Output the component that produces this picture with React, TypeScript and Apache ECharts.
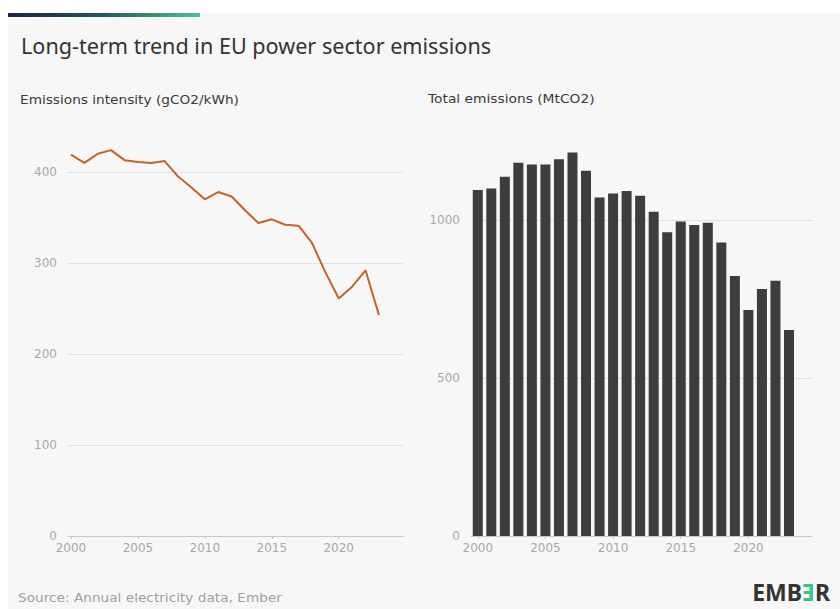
import React, { useEffect, useRef } from "react";
import * as echarts from "echarts";

const years = [2000, 2001, 2002, 2003, 2004, 2005, 2006, 2007, 2008, 2009, 2010, 2011, 2012, 2013, 2014, 2015, 2016, 2017, 2018, 2019, 2020, 2021, 2022, 2023];
const intensity = [419, 410, 420, 424, 413, 411, 410, 412, 395, 383, 370, 378, 373, 358, 344, 348, 342, 341, 322, 290, 261, 274, 292, 243];
const totalEmissions = [1095, 1100, 1137, 1181, 1176, 1176, 1192, 1214, 1156, 1071, 1084, 1092, 1077, 1026, 961, 995, 984, 991, 929, 823, 715, 782, 808, 652];
const yearTicks = [2000, 2005, 2010, 2015, 2020];
const leftTitle = "Emissions intensity (gCO2/kWh)";
const rightTitle = "Total emissions (MtCO2)";
const mainTitle = "Long-term trend in EU power sector emissions";
const sourceText = "Source: Annual electricity data, Ember";

const FONT = "Noto Sans";
const WIDE = "DejaVu Sans";

export default function App() {
  const ref = useRef<HTMLDivElement>(null);
  useEffect(() => {
    document.body.style.margin = "0";
    const chart = echarts.init(ref.current!, null, { renderer: "svg" });
    const xAxisCommon = (gridIndex: number, min: number, max: number) => ({
      type: "value" as const,
      gridIndex,
      min,
      max,
      axisLine: { show: true, lineStyle: { color: "#c8c8c8", width: 1 } },
      axisTick: { show: true, customValues: yearTicks, length: 3, lineStyle: { color: "#c8c8c8" } },
      axisLabel: {
        customValues: yearTicks,
        color: "#a8a8a8",
        fontSize: 12,
        fontFamily: WIDE,
        margin: 6,
        formatter: (v: number) => String(v),
      },
      splitLine: { show: false },
    });
    const yAxisCommon = (gridIndex: number, max: number, interval: number) => ({
      type: "value" as const,
      gridIndex,
      min: 0,
      max,
      interval,
      axisLine: { show: false },
      axisTick: { show: false },
      axisLabel: {
        color: "#a8a8a8",
        fontSize: 12,
        fontFamily: WIDE,
        margin: 11,
        formatter: (v: number) => String(v),
      },
      splitLine: { show: true, lineStyle: { color: "#e0e0e0", width: 1 } },
    });
    chart.setOption({
      animation: false,
      backgroundColor: "#ffffff",
      graphic: [
        { type: "rect", z: -10, shape: { x: 8, y: 13, width: 832, height: 596 }, style: { fill: "#f7f7f7" } },
        {
          type: "rect",
          shape: { x: 8, y: 13, width: 192, height: 4 },
          style: {
            fill: new echarts.graphic.LinearGradient(0, 0, 1, 0, [
              { offset: 0, color: "#1d2146" },
              { offset: 0.5, color: "#245a5a" },
              { offset: 1, color: "#4cc391" },
            ]),
          },
        },
        {
          type: "text",
          x: 21,
          y: 45,
          style: { text: mainTitle, fontSize: 21.6, fontFamily: FONT, fill: "#333333", textVerticalAlign: "middle" },
        },
        {
          type: "text",
          x: 20,
          y: 100,
          scaleX: 1.19,
          style: { text: leftTitle, fontSize: 11.5, fontFamily: WIDE, fill: "#3a3a3a", textVerticalAlign: "middle" },
        },
        {
          type: "text",
          x: 428,
          y: 99,
          scaleX: 1.2,
          style: { text: rightTitle, fontSize: 11.5, fontFamily: WIDE, fill: "#3a3a3a", textVerticalAlign: "middle" },
        },
        {
          type: "text",
          x: 18,
          y: 598,
          scaleX: 1.19,
          style: { text: sourceText, fontSize: 11.5, fontFamily: WIDE, fill: "#a0a0a0", textVerticalAlign: "middle" },
        },
        {
          type: "text",
          x: 830,
          y: 592,
          style: {
            text: "{a|EMB}{b|Ǝ}{a|R}",
            align: "right",
            verticalAlign: "middle",
            rich: {
              a: { fontSize: 23, fontWeight: "bold", fontFamily: FONT, fill: "#333333" },
              b: { fontSize: 23, fontWeight: "bold", fontFamily: FONT, fill: "#3cc08c" },
            },
          },
        },
      ],
      grid: [
        { left: 68, right: 840 - 403, top: 172, bottom: 609 - 536 },
        { left: 471, right: 840 - 812, top: 220, bottom: 609 - 536 },
      ],
      xAxis: [xAxisCommon(0, 1999.78, 2024.8), xAxisCommon(1, 1999.5, 2024.7)],
      yAxis: [yAxisCommon(0, 400, 100), yAxisCommon(1, 1000, 500)],
      series: [
        {
          type: "line",
          xAxisIndex: 0,
          yAxisIndex: 0,
          clip: false,
          data: years.map((y, i) => [y, intensity[i]]),
          showSymbol: false,
          symbol: "none",
          lineStyle: { color: "#c2642c", width: 2 },
        },
        {
          type: "bar",
          xAxisIndex: 1,
          yAxisIndex: 1,
          clip: false,
          barWidth: 10,
          data: years.map((y, i) => [y, totalEmissions[i]]),
          itemStyle: { color: "#3d3d3d" },
        },
      ],
    });
    return () => chart.dispose();
  }, []);
  return <div ref={ref} style={{ width: 840, height: 609 }} />;
}
